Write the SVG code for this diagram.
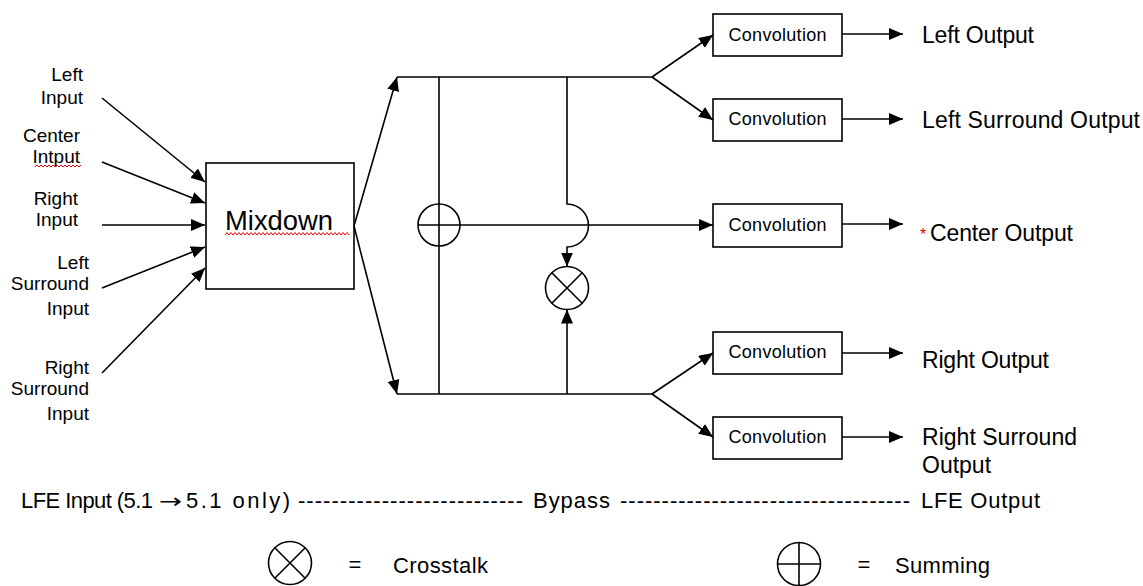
<svg xmlns="http://www.w3.org/2000/svg" width="1143" height="586" viewBox="0 0 1143 586">
<defs>
<style>
.t{font-family:"Liberation Sans",Arial,sans-serif;fill:#000}
.lbl{font-size:19px;text-anchor:end}
.out{font-size:23px}
.conv{font-size:18px;text-anchor:middle}
.box{fill:#fff;stroke:#000;stroke-width:1.6}
.ln{fill:none;stroke:#000;stroke-width:1.6}
.arr{fill:none;stroke:#000;stroke-width:1.6;marker-end:url(#ah)}
.sq{fill:none;stroke:#e00;stroke-width:1}
.bot{font-size:22px}
</style>
<marker id="ah" markerUnits="userSpaceOnUse" markerWidth="14" markerHeight="12" refX="14" refY="6" orient="auto">
<path d="M0,0 L14,6 L0,12 z" fill="#000"/>
</marker>
</defs>
<rect width="1143" height="586" fill="#fff"/>

<g id="inputs">
<text class="t lbl" x="83" y="81">Left</text>
<text class="t lbl" x="83" y="104">Input</text>
<text class="t lbl" x="80" y="142">Center</text>
<text class="t lbl" x="80" y="163">Intput</text>
<path class="sq" d="M35,167 l2,-2 l2,2 l2,-2 l2,2 l2,-2 l2,2 l2,-2 l2,2 l2,-2 l2,2 l2,-2 l2,2 l2,-2 l2,2 l2,-2 l2,2 l2,-2 l2,2 l2,-2 l2,2 l2,-2 l2,2 l2,-2"/>
<text class="t lbl" x="78" y="205">Right</text>
<text class="t lbl" x="78" y="226">Input</text>
<text class="t lbl" x="89" y="269">Left</text>
<text class="t lbl" x="89" y="290">Surround</text>
<text class="t lbl" x="89" y="315">Input</text>
<text class="t lbl" x="89" y="374">Right</text>
<text class="t lbl" x="89" y="395">Surround</text>
<text class="t lbl" x="89" y="420">Input</text>
</g>

<g id="mixdown">
<rect class="box" x="206" y="163" width="148" height="126"/>
<text class="t" x="225" y="230" font-size="27" textLength="108" lengthAdjust="spacingAndGlyphs">Mixdown</text>
<path class="sq" d="M225,235 l2,-2.5 l2,2.5 l2,-2.5 l2,2.5 l2,-2.5 l2,2.5 l2,-2.5 l2,2.5 l2,-2.5 l2,2.5 l2,-2.5 l2,2.5 l2,-2.5 l2,2.5 l2,-2.5 l2,2.5 l2,-2.5 l2,2.5 l2,-2.5 l2,2.5 l2,-2.5 l2,2.5 l2,-2.5 l2,2.5 l2,-2.5 l2,2.5 l2,-2.5 l2,2.5 l2,-2.5 l2,2.5 l2,-2.5 l2,2.5 l2,-2.5 l2,2.5 l2,-2.5 l2,2.5 l2,-2.5 l2,2.5 l2,-2.5 l2,2.5 l2,-2.5 l2,2.5 l2,-2.5 l2,2.5 l2,-2.5 l2,2.5 l2,-2.5 l2,2.5 l2,-2.5 l2,2.5 l2,-2.5 l2,2.5 l2,-2.5 l2,2.5 l2,-2.5 l2,2.5 l2,-2.5 l2,2.5 l2,-2.5 l2,2.5 l2,-2.5 l2,2.5"/>
</g>

<g id="summing">
<circle class="ln" cx="439" cy="225" r="21"/>
</g>

<g id="crosstalk">
<circle class="ln" cx="567" cy="288" r="21.5"/>
<path class="ln" d="M551.8,272.8 L582.2,303.2 M582.2,272.8 L551.8,303.2"/>
</g>

<g id="conv1">
<rect class="box" x="713" y="14" width="129" height="42"/>
<text class="t conv" x="777.5" y="40.5" textLength="98">Convolution</text>
</g>
<g id="conv2">
<rect class="box" x="713" y="99" width="129" height="42"/>
<text class="t conv" x="777.5" y="124.5" textLength="98">Convolution</text>
</g>
<g id="conv3">
<rect class="box" x="713" y="204" width="129" height="43"/>
<text class="t conv" x="777.5" y="230.5" textLength="98">Convolution</text>
</g>
<g id="conv4">
<rect class="box" x="713" y="332" width="129" height="42"/>
<text class="t conv" x="777.5" y="357.5" textLength="98">Convolution</text>
</g>
<g id="conv5">
<rect class="box" x="713" y="417" width="129" height="42"/>
<text class="t conv" x="777.5" y="442.5" textLength="98">Convolution</text>
</g>

<g id="outputs">
<text class="t out" x="922" y="43" textLength="112">Left Output</text>
<text class="t out" x="922" y="128" textLength="218">Left Surround Output</text>
<text class="t" x="920" y="240" font-size="16" style="fill:#e00">*</text>
<text class="t out" x="930" y="240.5" textLength="143">Center Output</text>
<text class="t out" x="922" y="368" textLength="127">Right Output</text>
<text class="t out" x="922" y="445" textLength="155">Right Surround</text>
<text class="t out" x="922" y="473">Output</text>
</g>

<g id="connectors">
<line class="arr" x1="102" y1="98" x2="205" y2="182"/>
<line class="arr" x1="102" y1="162" x2="205" y2="203"/>
<line class="arr" x1="102" y1="225" x2="205" y2="225"/>
<line class="arr" x1="102" y1="288" x2="205" y2="247"/>
<line class="arr" x1="102" y1="373" x2="205" y2="268"/>
<line class="arr" x1="354" y1="226" x2="397" y2="77"/>
<line class="arr" x1="354" y1="226" x2="397" y2="394"/>
<path class="ln" d="M397,77 H652 M397,394 H652 M439,77 V394"/>
<line class="arr" x1="418" y1="225" x2="713" y2="225"/>
<path class="arr" d="M567,77 V204 A21.5,21.5 0 0 1 567,247 V266.5"/>
<line class="arr" x1="567" y1="394" x2="567" y2="309.5"/>
<line class="arr" x1="652" y1="77" x2="713" y2="35"/>
<line class="arr" x1="652" y1="77" x2="713" y2="120"/>
<line class="arr" x1="652" y1="394" x2="713" y2="353"/>
<line class="arr" x1="652" y1="394" x2="713" y2="437"/>
<line class="arr" x1="842" y1="34" x2="903" y2="34"/>
<line class="arr" x1="842" y1="119" x2="903" y2="119"/>
<line class="arr" x1="842" y1="224" x2="903" y2="224"/>
<line class="arr" x1="842" y1="353" x2="903" y2="353"/>
<line class="arr" x1="842" y1="437" x2="903" y2="437"/>
</g>

<g id="lfe">
<text class="t bot" y="508"><tspan x="21" textLength="132">LFE Input (5.1</tspan><tspan x="159" font-family="'DejaVu Sans',sans-serif" font-size="20" textLength="23" lengthAdjust="spacingAndGlyphs">→</tspan><tspan x="186" textLength="104">5.1 only)</tspan><tspan x="298" textLength="225">---------------------------</tspan><tspan x="533" textLength="77">Bypass</tspan><tspan x="620" textLength="290">-----------------------------------</tspan><tspan x="921" textLength="119">LFE Output</tspan></text>
</g>

<g id="legend">
<circle class="ln" cx="290" cy="563" r="21.5"/>
<path class="ln" d="M274.8,547.8 L305.2,578.2 M305.2,547.8 L274.8,578.2"/>
<text class="t bot" x="355" y="572" text-anchor="middle">=</text>
<text class="t bot" x="393" y="572.5" textLength="95">Crosstalk</text>
<circle class="ln" cx="799" cy="564" r="21.5"/>
<path class="ln" d="M777.5,564 H820.5 M799,542.5 V585.5"/>
<text class="t bot" x="864" y="572" text-anchor="middle">=</text>
<text class="t bot" x="895" y="572.5" textLength="95">Summing</text>
</g>
</svg>
